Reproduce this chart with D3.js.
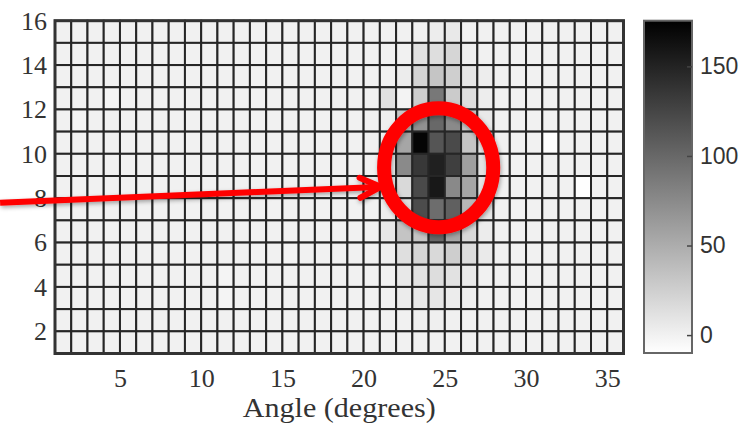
<!DOCTYPE html>
<html>
<head>
<meta charset="utf-8">
<script src="https://cdn.jsdelivr.net/npm/d3@7"></script>
<style>
  body { margin: 0; background: #fff; }
  svg { display: block; font-family: "Liberation Serif", "Times New Roman", serif; }
</style>
</head>
<body>
<svg id="chart" width="754" height="430"></svg>
<script>
// angle bins (columns) and height bins (rows, listed top to bottom)
const angles = [1,2,3,4,5,6,7,8,9,10,11,12,13,14,15,16,17,18,19,20,21,22,23,24,25,26,27,28,29,30,31,32,33,34,35];
const heights = [15,14,13,12,11,10,9,8,7,6,5,4,3,2,1];

// counts per cell, one row per height (top row first), one value per angle
const counts = [
  [0,0,0,0,0,0,0,0,0,0,0,0,0,0,0,0,0,0,0,0,0,0,0,3,6,0,0,0,0,0,0,0,0,0,0],
  [0,0,0,0,0,0,0,0,0,0,0,0,0,0,0,0,0,0,0,0,0,0,12,14,20,2,0,0,0,0,0,0,0,0,0],
  [0,0,0,0,0,0,0,0,0,0,0,0,0,0,0,0,0,0,0,0,0,4,21,32,25,8,3,0,0,0,0,0,0,0,0],
  [0,0,0,-3,0,0,0,0,0,0,0,0,0,0,0,0,0,0,0,0,12,-1,26,88,28,14,3,0,0,0,0,0,0,0,0],
  [0,-2,0,0,0,0,0,0,0,0,0,0,0,0,0,0,0,0,0,0,2,30,70,100,75,30,6,0,0,0,0,0,0,0,0],
  [0,0,0,0,0,0,0,0,0,0,0,0,0,0,0,0,0,0,0,0,0,55,172,114,122,32,10,0,0,0,-9,0,0,0,0],
  [0,0,0,0,0,0,0,0,0,0,0,0,0,0,0,0,0,0,0,0,5,75,135,152,130,60,12,0,0,0,0,0,0,0,0],
  [0,0,0,0,0,0,0,0,0,0,0,0,0,0,0,0,0,0,0,0,3,18,122,158,76,55,10,0,0,0,0,0,-9,0,0],
  [0,0,0,0,0,0,0,0,0,0,0,0,0,0,0,0,0,0,0,0,2,14,120,96,106,42,8,0,0,0,0,0,0,0,0],
  [0,0,0,0,0,0,0,0,0,0,0,0,0,0,0,0,0,0,0,0,7,33,32,100,55,18,4,0,0,0,0,0,0,0,0],
  [0,0,0,0,0,0,0,0,0,0,0,0,0,0,-2,0,0,0,0,0,2,13,20,18,26,15,5,0,0,0,0,0,0,0,0],
  [0,0,0,0,0,0,0,0,0,0,-2,0,0,0,0,0,0,0,0,0,0,7,11,15,11,5,0,0,0,0,0,0,0,0,0],
  [0,0,0,0,0,0,0,0,0,0,-2,0,0,0,0,0,0,0,0,0,0,4,6,8,4,2,0,0,0,0,0,0,0,0,0],
  [0,0,0,0,0,0,0,0,0,0,0,0,0,0,0,0,0,0,0,0,0,0,2,2,1,0,0,0,0,0,0,0,0,0,0],
  [0,0,0,0,0,0,0,0,0,0,0,0,0,0,0,0,0,0,0,0,0,0,0,0,0,0,0,0,0,0,0,0,0,0,0]
];

const xTicks = [5, 10, 15, 20, 25, 30, 35];
const yTicks = [2, 4, 6, 8, 10, 12, 14, 16];
const barTicks = [0, 50, 100, 150];
const colorRange = [-10, 175.5];

const svg = d3.select("#chart");

const x = d3.scaleLinear().domain([1, 36]).range([55, 623.5]);
const y = d3.scaleLinear().domain([1, 16]).range([353.5, 20.7]);
const color = d3.scaleLinear().domain(colorRange).range(["#ffffff", "#000000"]);

// cells
const cells = [];
counts.forEach((row, i) => {
  row.forEach((v, j) => cells.push({ a: angles[j], h: heights[i], v: v }));
});

svg.append("g")
  .selectAll("rect")
  .data(cells)
  .enter()
  .append("rect")
  .attr("x", d => x(d.a))
  .attr("y", d => y(d.h + 1))
  .attr("width", d => x(d.a + 1) - x(d.a))
  .attr("height", d => y(d.h) - y(d.h + 1))
  .attr("fill", d => color(d.v))
  .attr("stroke", "#262626")
  .attr("stroke-width", 2);

// frame
svg.append("rect")
  .attr("x", x(1)).attr("y", y(16))
  .attr("width", x(36) - x(1)).attr("height", y(1) - y(16))
  .attr("fill", "none")
  .attr("stroke", "#333")
  .attr("stroke-width", 3);

// axes
const xAxis = svg.append("g")
  .attr("transform", `translate(0,${y(1)})`)
  .call(d3.axisBottom(x).tickValues(xTicks).tickSize(0).tickPadding(15));
const yAxis = svg.append("g")
  .attr("transform", `translate(${x(1)},0)`)
  .call(d3.axisLeft(y).tickValues(yTicks).tickSize(0).tickPadding(8));

[xAxis, yAxis].forEach(g => {
  g.select(".domain").remove();
  g.selectAll("text")
    .attr("font-family", "Liberation Serif, serif")
    .attr("font-size", 26)
    .attr("fill", "#333");
});

svg.append("text")
  .attr("x", (x(1) + x(36)) / 2)
  .attr("y", 417)
  .attr("text-anchor", "middle")
  .attr("font-size", 28)
  .attr("textLength", 193)
  .attr("lengthAdjust", "spacingAndGlyphs")
  .attr("fill", "#333")
  .text("Angle (degrees)");

// colorbar
const cb = d3.scaleLinear().domain(colorRange).range([353, 20.7]);
const defs = svg.append("defs");
const grad = defs.append("linearGradient")
  .attr("id", "cbar")
  .attr("x1", 0).attr("y1", 1).attr("x2", 0).attr("y2", 0);
grad.selectAll("stop")
  .data(colorRange)
  .enter()
  .append("stop")
  .attr("offset", (d, i) => i)
  .attr("stop-color", d => color(d));

const cbX = 644, cbW = 48;
svg.append("rect")
  .attr("x", cbX).attr("y", cb(colorRange[1]))
  .attr("width", cbW).attr("height", cb(colorRange[0]) - cb(colorRange[1]))
  .attr("fill", "url(#cbar)")
  .attr("stroke", "#666")
  .attr("stroke-width", 2);

const cbAxis = svg.append("g")
  .attr("transform", `translate(${cbX + cbW},0)`)
  .call(d3.axisLeft(cb).tickValues(barTicks).tickSize(5).tickPadding(0));
cbAxis.select(".domain").remove();
cbAxis.selectAll("line").attr("stroke", "#444").attr("stroke-width", 1.5);
cbAxis.selectAll("text")
  .attr("text-anchor", "start")
  .attr("x", 8)
  .attr("font-size", 23)
  .attr("fill", "#333");

// red annotation
const shadow = defs.append("filter").attr("id", "shadow")
  .attr("x", "-20%").attr("y", "-20%").attr("width", "140%").attr("height", "140%");
shadow.append("feDropShadow")
  .attr("dx", 1).attr("dy", 2).attr("stdDeviation", 2)
  .attr("flood-color", "#000").attr("flood-opacity", 0.35);

const note = svg.append("g").attr("filter", "url(#shadow)");

const ring = { cx: 24.62, cy: 9.37, rx: 3.36, ry: 2.68 };
note.append("ellipse")
  .attr("cx", x(ring.cx)).attr("cy", y(ring.cy))
  .attr("rx", x(ring.cx + ring.rx) - x(ring.cx))
  .attr("ry", y(ring.cy) - y(ring.cy + ring.ry))
  .attr("fill", "none")
  .attr("stroke", "#ff0000")
  .attr("stroke-width", 14);

const arrowFrom = [-2.38, 7.79], arrowTo = [21.05, 8.51];
const x0 = x(arrowFrom[0]), y0 = y(arrowFrom[1]);
const x1 = x(arrowTo[0]), y1 = y(arrowTo[1]);
note.append("line")
  .attr("x1", x0).attr("y1", y0)
  .attr("x2", x1 - 3).attr("y2", y1)
  .attr("stroke", "#ff0000")
  .attr("stroke-width", 6);

const ang = Math.atan2(y1 - y0, x1 - x0);
const headLen = 23, spread = 0.45;
note.append("path")
  .attr("d", d3.line()([
    [x1 - headLen * Math.cos(ang - spread), y1 - headLen * Math.sin(ang - spread)],
    [x1, y1],
    [x1 - headLen * Math.cos(ang + spread), y1 - headLen * Math.sin(ang + spread)]
  ]))
  .attr("fill", "none")
  .attr("stroke", "#ff0000")
  .attr("stroke-width", 6)
  .attr("stroke-linecap", "round")
  .attr("stroke-linejoin", "round");
</script>
</body>
</html>
